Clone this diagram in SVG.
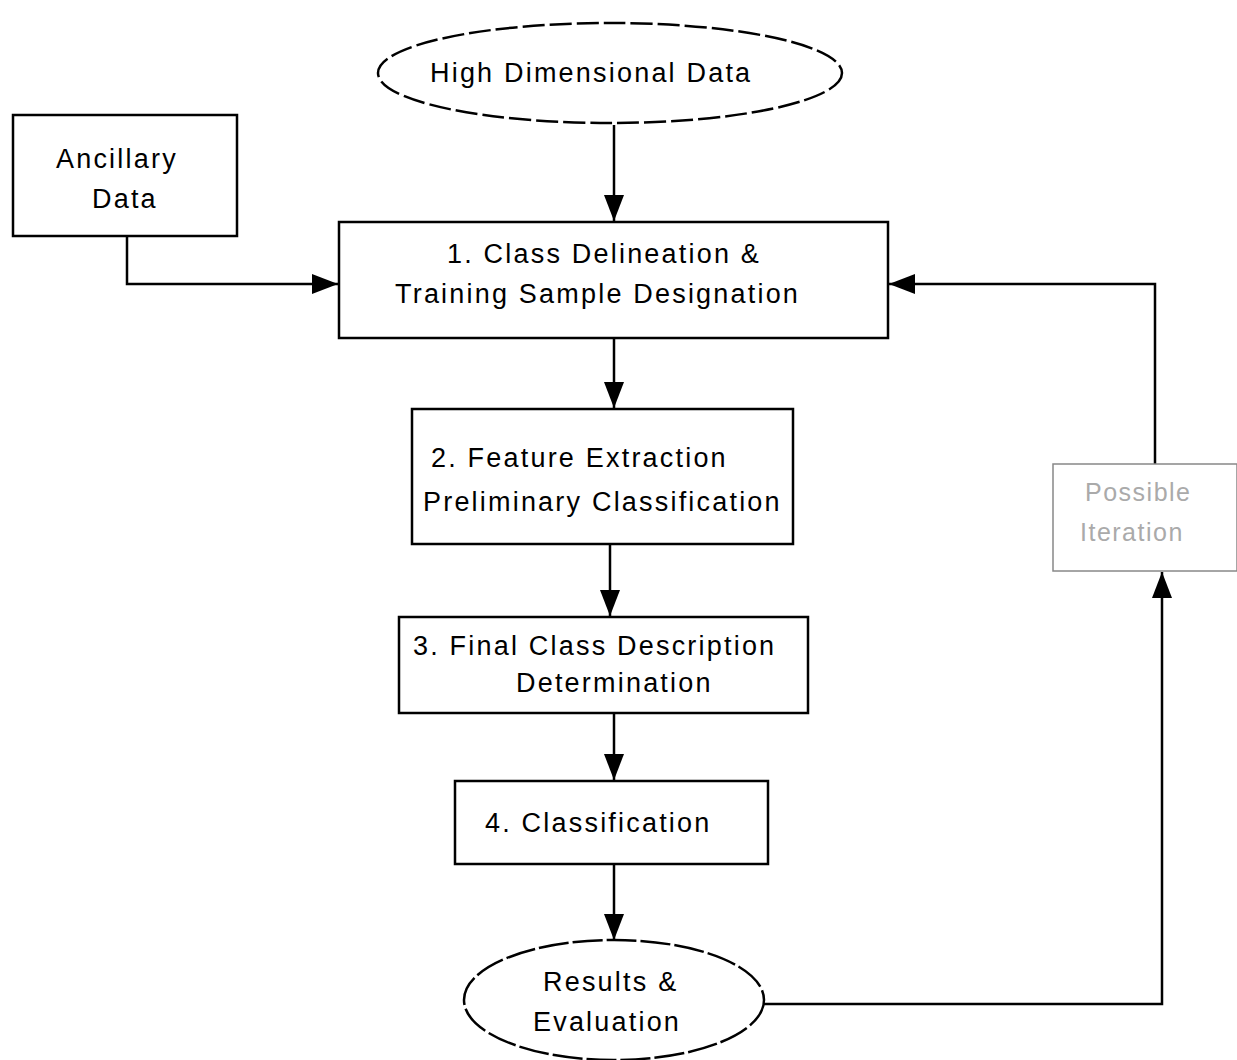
<svg xmlns="http://www.w3.org/2000/svg" width="1237" height="1060" viewBox="0 0 1237 1060">
<style>
.box{fill:#fff;stroke:#000;stroke-width:2.5}
.t{font-family:"Liberation Sans",Arial,sans-serif;font-size:27px;letter-spacing:2.2px;fill:#000}
.g{font-family:"Liberation Sans",Arial,sans-serif;font-size:25px;letter-spacing:1.5px;fill:#aaa}
.ln{fill:none;stroke:#000;stroke-width:2.5}
</style>
<defs>
<marker id="ahb" viewBox="0 0 10 10" refX="10" refY="5" markerWidth="26" markerHeight="20" markerUnits="userSpaceOnUse" orient="auto" preserveAspectRatio="none">
<path d="M0,0 L10,5 L0,10 z" fill="#000"/>
</marker>
</defs>
<rect width="1237" height="1060" fill="#fff"/>
<g id="connectors">
<path class="ln" d="M614,125 L614,221" marker-end="url(#ahb)"/>
<path class="ln" d="M127,236 L127,284 L338,284" marker-end="url(#ahb)"/>
<path class="ln" d="M614,338 L614,408" marker-end="url(#ahb)"/>
<path class="ln" d="M610,544 L610,616" marker-end="url(#ahb)"/>
<path class="ln" d="M614,713 L614,780" marker-end="url(#ahb)"/>
<path class="ln" d="M614,864 L614,940" marker-end="url(#ahb)"/>
<path class="ln" d="M764,1004 L1162,1004 L1162,572" marker-end="url(#ahb)" stroke-width="2"/>
<path class="ln" d="M1155,464 L1155,284 L889,284" marker-end="url(#ahb)" stroke-width="2"/>
</g>
<g id="high-dimensional-data">
<ellipse cx="610" cy="73" rx="232" ry="50" fill="#fff" stroke="#000" stroke-width="2.5" stroke-dasharray="22,5"/>
<text class="t" x="430" y="82">High Dimensional Data</text>
</g>
<g id="ancillary-data">
<rect class="box" x="13" y="115" width="224" height="121"/>
<text class="t" x="56" y="168">Ancillary</text>
<text class="t" x="92" y="208">Data</text>
</g>
<g id="step1">
<rect class="box" x="339" y="222" width="549" height="116"/>
<text class="t" x="447" y="263">1. Class Delineation &amp;</text>
<text class="t" x="395" y="303">Training Sample Designation</text>
</g>
<g id="step2">
<rect class="box" x="412" y="409" width="381" height="135"/>
<text class="t" x="431" y="467">2. Feature Extraction</text>
<text class="t" x="423" y="511">Preliminary Classification</text>
</g>
<g id="step3">
<rect class="box" x="399" y="617" width="409" height="96"/>
<text class="t" x="413" y="655">3. Final Class Description</text>
<text class="t" x="516" y="692">Determination</text>
</g>
<g id="step4">
<rect class="box" x="455" y="781" width="313" height="83"/>
<text class="t" x="485" y="832">4. Classification</text>
</g>
<g id="results">
<ellipse cx="614" cy="1000" rx="150" ry="60" fill="#fff" stroke="#000" stroke-width="2.5" stroke-dasharray="30,4"/>
<text class="t" x="543" y="991">Results &amp;</text>
<text class="t" x="533" y="1031">Evaluation</text>
</g>
<g id="possible-iteration">
<rect x="1053" y="464" width="184" height="107" fill="#fff" stroke="#888" stroke-width="1.5"/>
<text class="g" x="1085" y="501">Possible</text>
<text class="g" x="1080" y="541">Iteration</text>
</g>
</svg>
